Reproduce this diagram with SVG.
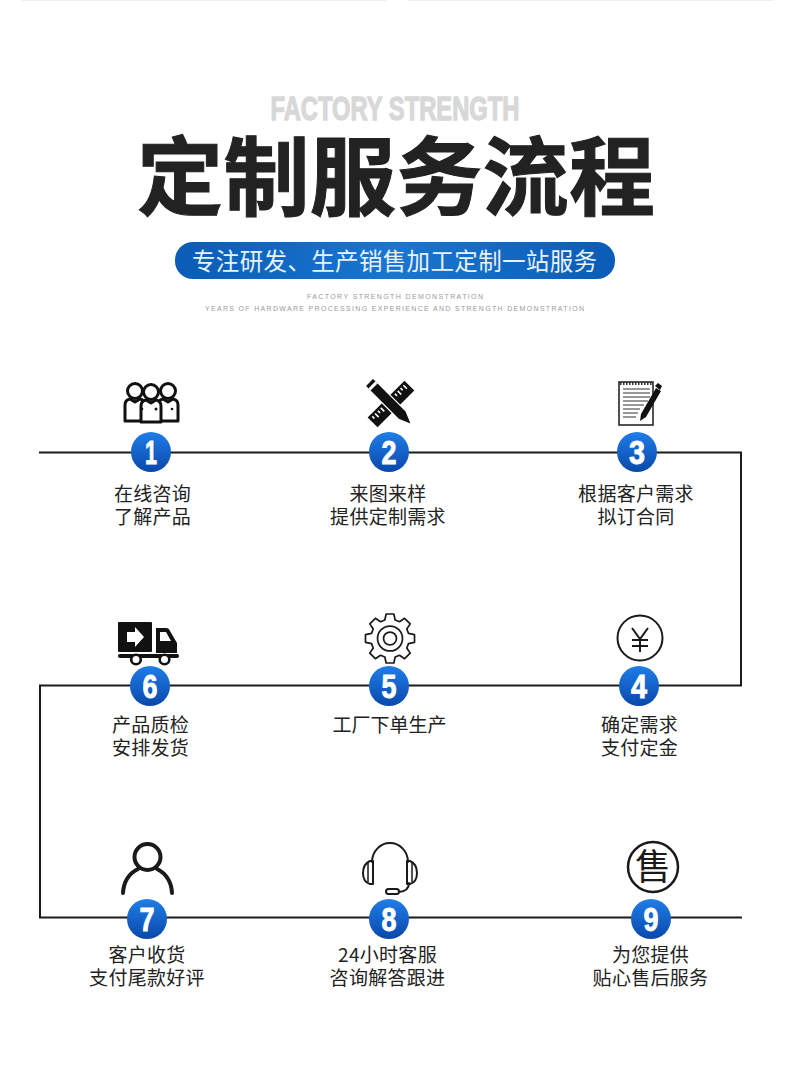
<svg xmlns="http://www.w3.org/2000/svg" width="790" height="1080" viewBox="0 0 790 1080">
<style>
.cn{font-family:"Noto Sans CJK SC","Noto Sans",sans-serif}
.lb{font-size:19px;fill:#222;text-anchor:middle;letter-spacing:.3px;font-family:"Noto Sans CJK SC","Noto Sans",sans-serif}
.num{font-size:34px;font-weight:700;fill:#fff;stroke:#fff;stroke-width:.9;text-anchor:middle;font-family:"Liberation Sans",sans-serif}
.sm{font-size:7px;fill:#9a9a9a;text-anchor:middle;font-family:"Liberation Sans",sans-serif}
.ln{fill:none;stroke:#1a1a1a;stroke-width:2}
.ic{fill:none;stroke:#1a1a1a;stroke-width:2;stroke-linejoin:round;stroke-linecap:round}
.k{fill:#111}
</style>
<defs>
<linearGradient id="b" x1="0" y1="0" x2="0" y2="1"><stop offset="0" stop-color="#1f7de8"/><stop offset="1" stop-color="#0a48aa"/></linearGradient>
<linearGradient id="p" x1="0" y1="0" x2="1" y2="0"><stop offset="0" stop-color="#0a5cb6"/><stop offset=".5" stop-color="#1a76cf"/><stop offset="1" stop-color="#0a5cb6"/></linearGradient>
<g id="who"><circle cx="0" cy="-12" r="7.500" fill="#fff" stroke="#111" stroke-width="3"/><path d="M-10 18V2q0-5 5-6l5 3 5-3q5 1 5 6V18Z" fill="#fff" stroke="#111" stroke-width="3" stroke-linejoin="round"/></g>
</defs>
<rect width="790" height="1080" fill="#fff"/>
<path d="M22 .5H386M408 .5H773" stroke="#eee" fill="none"/>
<g id="header">
<text x="395" y="120" text-anchor="middle" font-family="Liberation Sans,sans-serif" font-weight="700" font-size="33" fill="#d8d8d8" stroke="#d8d8d8" stroke-width="1.300" textLength="249" lengthAdjust="spacingAndGlyphs">FACTORY STRENGTH</text>
<text class="cn" x="396" y="209" text-anchor="middle" font-size="86" font-weight="700" fill="#222" stroke="#222" stroke-width="1" textLength="518" lengthAdjust="spacing">定制服务流程</text>
<rect x="175" y="242" width="440" height="37" rx="18" fill="url(#p)"/>
<text class="cn" x="394.500" y="270" text-anchor="middle" font-size="23.500" fill="#e8f2fb" textLength="405">专注研发、生产销售加工定制一站服务</text>
<text class="sm" x="395" y="298.500" textLength="176">FACTORY STRENGTH DEMONSTRATION</text>
<text class="sm" x="394.500" y="310.500" textLength="379">YEARS OF HARDWARE PROCESSING EXPERIENCE AND STRENGTH DEMONSTRATION</text>
</g>
<g id="connectors">
<path class="ln" d="M39 452.500H741V685.500H40V917.500H742"/>
</g>
<g id="node1">
<use href="#who" x="135" y="403"/><use href="#who" x="168" y="403"/><use href="#who" x="151" y="404"/>
<circle cx="142" cy="409" r="1.300" class="k"/><circle cx="156" cy="409" r="1.500" class="k"/><circle cx="172" cy="409" r="1.300" class="k"/>
<circle cx="151" cy="452" r="20" fill="url(#b)"/>
<text class="num" x="151" y="464" textLength="12" lengthAdjust="spacingAndGlyphs">1</text>
<text class="lb" x="152.500" y="501">在线咨询</text><text class="lb" x="152.500" y="524">了解产品</text>
</g>
<g id="node2">
<g transform="rotate(45 391 404)"><rect x="384" y="378" width="14" height="52" fill="#111"/><path d="M386.500 382h5M386.500 386h3M386.500 390h5M386.500 394h3M386.500 414h5M386.500 418h3M386.500 422h5M386.500 426h3" stroke="#fff" stroke-width="1.600"/></g>
<g transform="rotate(-45 391 404)"><path d="M385.500 373h11v47l-5.500 13-5.500-13Z" fill="#111" stroke="#fff" stroke-width="1.200"/><path d="M386 377h10v3h-10Z" fill="#fff"/></g>
<circle cx="389" cy="452" r="20" fill="url(#b)"/>
<text class="num" x="389" y="464" textLength="15" lengthAdjust="spacingAndGlyphs">2</text>
<text class="lb" x="388" y="501">来图来样</text><text class="lb" x="388" y="524">提供定制需求</text>
</g>
<g id="node3">
<rect x="619" y="382" width="34" height="43" fill="#fff" stroke="#1a1a1a" stroke-width="1.500"/>
<path d="M620 383.500H652" stroke="#333" stroke-width="3" stroke-dasharray="1.500 1.500"/>
<path d="M623 389H650M623 393H650M623 397H650M623 401H648M623 405H644M623 409H640M623 413H638M623 417H636" stroke="#777" stroke-width="1.500"/>
<path d="M640 421l1-7 15-26 5 3-15 26Z" class="k"/><path d="M655 386l3-3 4 3-2 4Z" class="k"/>
<circle cx="637" cy="452" r="20" fill="url(#b)"/>
<text class="num" x="637" y="464" textLength="16" lengthAdjust="spacingAndGlyphs">3</text>
<text class="lb" x="636" y="501">根据客户需求</text><text class="lb" x="636" y="524">拟订合同</text>
</g>
<g id="node4">
<circle cx="640" cy="638" r="22.500" class="ic"/>
<path d="M632 628l8 11 8-11M632 640H648M632 646H648M640 639V652" fill="none" stroke="#1a1a1a" stroke-width="2"/>
<circle cx="639" cy="686" r="20" fill="url(#b)"/>
<text class="num" x="639" y="698" textLength="16" lengthAdjust="spacingAndGlyphs">4</text>
<text class="lb" x="639.500" y="732">确定需求</text><text class="lb" x="639.500" y="755">支付定金</text>
</g>
<g id="node5">
<g transform="translate(390 638.500) scale(.86) translate(-389.500 -638.500)"><path class="ic" stroke-width="2.300" d="M385 610h9l1.500 7 5 2 6-4 6.500 6.500-4 6 2 5 7 1.500v9l-7 1.500-2 5 4 6-6.500 6.500-6-4-5 2-1.500 7h-9l-1.500-7-5-2-6 4-6.500-6.500 4-6-2-5-7-1.500v-9l7-1.500 2-5-4-6 6.500-6.500 6 4 5-2Z"/>
<circle cx="389.500" cy="638.500" r="14.500" class="ic" stroke-width="2.300"/>
<circle cx="389.500" cy="638.500" r="7.500" class="ic" stroke-width="2.300"/></g>
<circle cx="389" cy="686" r="20" fill="url(#b)"/>
<text class="num" x="389" y="698" textLength="15" lengthAdjust="spacingAndGlyphs">5</text>
<text class="lb" x="389.500" y="732" style="letter-spacing:0">工厂下单生产</text>
</g>
<g id="node6">
<rect x="118" y="622" width="34" height="30" rx="1" class="k"/>
<path d="M127 632h8v-5l9 10-9 10v-5h-8Z" fill="#fff"/>
<path d="M156 628h10q3 0 4 3l7 12v10h-21Z" class="k"/><path d="M160 632h6l5 9h-11Z" fill="#fff"/>
<rect x="118" y="654" width="61" height="4" rx="2" class="k"/>
<circle cx="136" cy="659.500" r="4.800" fill="#fff" stroke="#111" stroke-width="2.600"/>
<circle cx="164.500" cy="659.500" r="4.800" fill="#fff" stroke="#111" stroke-width="2.600"/>
<circle cx="150" cy="686" r="20" fill="url(#b)"/>
<text class="num" x="150" y="698" textLength="15" lengthAdjust="spacingAndGlyphs">6</text>
<text class="lb" x="150.500" y="732">产品质检</text><text class="lb" x="150.500" y="755">安排发货</text>
</g>
<g id="node7">
<circle cx="147.500" cy="857" r="13" fill="none" stroke="#1a1a1a" stroke-width="4"/>
<path d="M123 893q1-17 15-24M172 893q-1-17-15-24" fill="none" stroke="#1a1a1a" stroke-width="4" stroke-linecap="round"/>
<circle cx="147" cy="919" r="20" fill="url(#b)"/>
<text class="num" x="147" y="931" textLength="15" lengthAdjust="spacingAndGlyphs">7</text>
<text class="lb" x="147" y="962">客户收货</text><text class="lb" x="147" y="985">支付尾款好评</text>
</g>
<g id="node8">
<path class="ic" d="M372 862a18 19 0 0 1 36 0M409 883q0 8-10 9"/>
<path class="ic" d="M373 861h-3q-7 3-7 12t7 11h3ZM407 861h3q7 3 7 12t-7 11h-3Z"/>
<path d="M368 863v19M412 863v19" stroke="#1a1a1a" stroke-width="1.500"/>
<rect x="386" y="889" width="13" height="5" rx="2.500" class="ic"/>
<circle cx="389" cy="919" r="20" fill="url(#b)"/>
<text class="num" x="389" y="931" textLength="15" lengthAdjust="spacingAndGlyphs">8</text>
<text class="lb" x="387.500" y="962">24小时客服</text><text class="lb" x="387.500" y="985">咨询解答跟进</text>
</g>
<g id="node9">
<circle cx="653" cy="867" r="25" fill="none" stroke="#1a1a1a" stroke-width="2.500"/>
<text class="cn" x="653" y="880" text-anchor="middle" font-size="36" fill="#1a1a1a">售</text>
<circle cx="651" cy="919" r="20" fill="url(#b)"/>
<text class="num" x="651" y="931" textLength="15" lengthAdjust="spacingAndGlyphs">9</text>
<text class="lb" x="650.500" y="962">为您提供</text><text class="lb" x="650.500" y="985">贴心售后服务</text>
</g>
</svg>
